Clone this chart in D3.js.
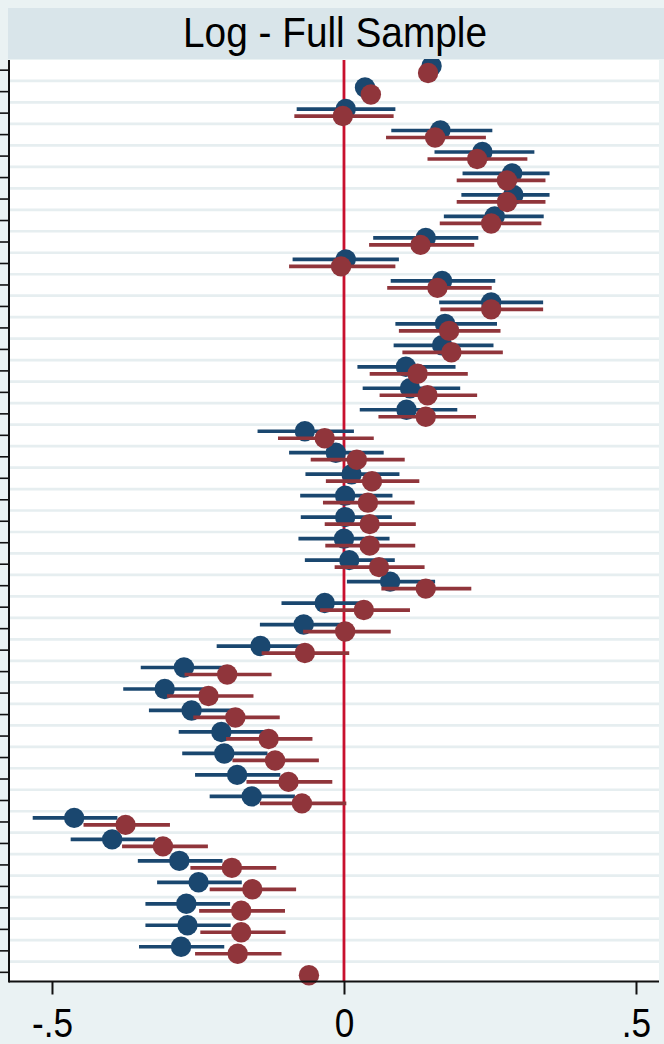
<!DOCTYPE html>
<html><head><meta charset="utf-8">
<script src="https://cdn.jsdelivr.net/npm/d3@7"></script>
<style>html,body{margin:0;padding:0;background:#eaf2f3;} svg{display:block;}</style>
</head><body><svg id="chart" width="664" height="1044"></svg>
<script>
const title = "Log - Full Sample";
const rows = [1,2,3,4,5,6,7,8,9,10,11,12,13,14,15,16,17,18,19,20,21,22,23,24,25,26,27,28,29,30,31,32,33,34,35,36,37,38,39,40,41,42,43];
const xTickValues = [-0.5, 0, 0.5];
const xTickLabels = ["-.5", "0", ".5"];

const blueCoef = [0.150,0.036,0.003,0.165,0.237,0.288,0.290,0.258,0.140,0.003,0.168,0.252,0.173,0.168,0.106,0.113,0.107,-0.067,-0.014,0.013,0.002,0.002,0.000,0.009,0.079,-0.033,-0.069,-0.143,-0.274,-0.307,-0.261,-0.210,-0.205,-0.183,-0.158,-0.462,-0.397,-0.282,-0.249,-0.270,-0.268,-0.279,null];
const blueLo = [null,null,-0.081,0.081,0.155,0.203,0.201,0.171,0.050,-0.088,0.080,0.163,0.088,0.085,0.023,0.032,0.027,-0.148,-0.094,-0.066,-0.075,-0.074,-0.078,-0.067,0.005,-0.107,-0.144,-0.218,-0.348,-0.378,-0.334,-0.283,-0.277,-0.255,-0.230,-0.533,-0.468,-0.353,-0.320,-0.340,-0.340,-0.351,null];
const blueHi = [null,null,0.088,0.254,0.326,0.352,0.352,0.342,0.230,0.094,0.259,0.341,0.262,0.256,0.191,0.199,0.194,0.017,0.068,0.095,0.083,0.082,0.078,0.087,0.156,0.043,0.007,-0.067,-0.202,-0.233,-0.187,-0.137,-0.131,-0.109,-0.084,-0.388,-0.323,-0.208,-0.175,-0.195,-0.194,-0.205,null];

const redCoef = [0.144,0.046,-0.002,0.156,0.228,0.279,0.279,0.252,0.131,-0.005,0.160,0.252,0.180,0.184,0.126,0.143,0.140,-0.033,0.022,0.048,0.041,0.044,0.044,0.060,0.140,0.034,0.002,-0.067,-0.200,-0.232,-0.186,-0.129,-0.118,-0.095,-0.072,-0.374,-0.310,-0.192,-0.157,-0.176,-0.176,-0.182,-0.060];
const redLo = [null,null,-0.085,0.072,0.143,0.193,0.193,0.164,0.043,-0.094,0.074,0.165,0.094,0.100,0.044,0.061,0.059,-0.113,-0.057,-0.031,-0.036,-0.033,-0.032,-0.016,0.064,-0.041,-0.070,-0.141,-0.273,-0.303,-0.258,-0.202,-0.191,-0.167,-0.144,-0.446,-0.380,-0.263,-0.230,-0.248,-0.246,-0.255,null];
const redHi = [null,null,0.085,0.243,0.314,0.345,0.345,0.338,0.223,0.088,0.253,0.341,0.268,0.272,0.212,0.228,0.226,0.051,0.104,0.129,0.121,0.123,0.122,0.138,0.218,0.113,0.080,0.009,-0.124,-0.155,-0.110,-0.054,-0.043,-0.020,0.004,-0.298,-0.233,-0.116,-0.082,-0.101,-0.100,-0.107,null];

const series = [
  {name: "blue", color: "#1a476f", coef: blueCoef, lo: blueLo, hi: blueHi, dy: -3.6},
  {name: "red", color: "#90353b", coef: redCoef, lo: redLo, hi: redHi, dy: 3.4}
];

const svg = d3.select("#chart");
const W = 664, H = 1044;
const plot = {left: 9, right: 659, top: 60, bottom: 981.5};
const FONT = "Liberation Sans, Arial, Helvetica, sans-serif";

svg.append("rect").attr("x",0).attr("y",0).attr("width",W).attr("height",H).attr("fill","#eaf2f3");
svg.append("rect").attr("x",plot.left).attr("y",plot.top).attr("width",plot.right-plot.left).attr("height",plot.bottom-plot.top).attr("fill","#ffffff");

const x = d3.scaleLinear().domain([-0.5736, 0.5394]).range([plot.left, plot.right]);
const y = d3.scalePoint().domain(rows).range([plot.top, plot.bottom]).padding(0.45);

// grid lines between rows
const gridPos = rows.slice(0, -1).map((r, i) => (y(r) + y(rows[i+1])) / 2);
svg.append("g").selectAll("line").data(gridPos).join("line")
  .attr("x1", plot.left+1).attr("x2", plot.right)
  .attr("y1", d => d + 0.5).attr("y2", d => d + 0.5)
  .attr("stroke", "#e6eef0").attr("stroke-width", 2.7);

// zero reference line
svg.append("line")
  .attr("x1", x(0)).attr("x2", x(0))
  .attr("y1", plot.top).attr("y2", plot.bottom)
  .attr("stroke", "#c8102e").attr("stroke-width", 2.8);

// series
series.forEach(s => {
  const g = svg.append("g");
  const ciData = rows.map((r, i) => ({r, lo: s.lo[i], hi: s.hi[i]})).filter(d => d.lo != null && d.hi != null);
  g.selectAll("line").data(ciData).join("line")
    .attr("x1", d => x(d.lo)).attr("x2", d => x(d.hi))
    .attr("y1", d => y(d.r) + s.dy).attr("y2", d => y(d.r) + s.dy)
    .attr("stroke", s.color).attr("stroke-width", 3.7);
  const ptData = rows.map((r, i) => ({r, v: s.coef[i]})).filter(d => d.v != null);
  g.selectAll("circle").data(ptData).join("circle")
    .attr("cx", d => x(d.v)).attr("cy", d => y(d.r) + s.dy)
    .attr("r", 10.2).attr("fill", s.color);
});

// axes
const yAxis = d3.axisLeft(y).tickSize(9).tickFormat("");
const gy = svg.append("g").attr("transform", `translate(${plot.left},0)`).call(yAxis);
gy.select(".domain").remove();
gy.selectAll(".tick line").attr("stroke", "#111").attr("stroke-width", 1.6);
svg.append("line").attr("x1", plot.left).attr("x2", plot.left).attr("y1", plot.top).attr("y2", plot.bottom+1)
  .attr("stroke", "#111").attr("stroke-width", 2);

const xAxis = d3.axisBottom(x).tickValues(xTickValues).tickSize(13).tickPadding(8)
  .tickFormat((d, i) => xTickLabels[i]);
const gx = svg.append("g").attr("transform", `translate(0,${plot.bottom})`).call(xAxis);
gx.select(".domain").remove();
gx.selectAll(".tick line").attr("stroke", "#111").attr("stroke-width", 2);
gx.selectAll(".tick text").attr("font-family", FONT)
  .attr("font-size", 37).attr("fill", "#000").attr("dy", null).attr("y", 0)
  .attr("transform", "translate(0,55) scale(0.95,1.1)");
svg.append("line").attr("x1", plot.left).attr("x2", plot.right).attr("y1", plot.bottom).attr("y2", plot.bottom)
  .attr("stroke", "#111").attr("stroke-width", 2);

// title band
svg.append("rect").attr("x", 8).attr("y", 8).attr("width", W-8).attr("height", 51).attr("fill", "#d9e5ea");
svg.append("text").attr("text-anchor", "middle")
  .attr("transform", "translate(335,47) scale(0.97,1.05)")
  .attr("font-family", FONT).attr("font-size", 40).attr("fill", "#000")
  .text(title);
</script></body></html>
